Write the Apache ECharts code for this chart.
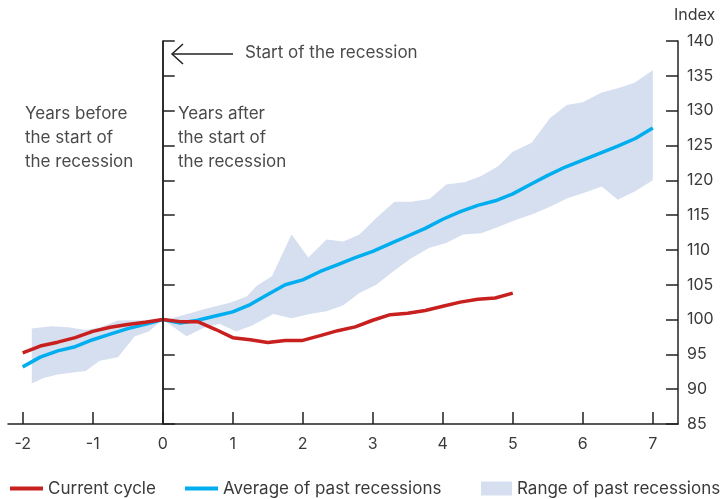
<!DOCTYPE html>
<html>
<head>
<meta charset="utf-8">
<title>Current cycle vs past recessions</title>
<script src="https://cdn.jsdelivr.net/npm/echarts@6/dist/echarts.min.js"></script>
<style>
  html, body { margin: 0; padding: 0; background: #fff; }
  #main { width: 728px; height: 499px; }
</style>
</head>
<body>
<div id="main"></div>
<script>
// years relative to the start of the recession (quarterly)
var quarters = [-2, -1.75, -1.5, -1.25, -1, -0.75, -0.5, -0.25, 0, 0.25, 0.5, 0.75,
  1, 1.25, 1.5, 1.75, 2, 2.25, 2.5, 2.75, 3, 3.25, 3.5, 3.75, 4, 4.25, 4.5, 4.75,
  5, 5.25, 5.5, 5.75, 6, 6.25, 6.5, 6.75, 7];

var currentCycle = [95.2, 96.2, 96.75, 97.4, 98.3, 98.9, 99.3, 99.6, 100, 99.7, 99.7, 98.6,
  97.4, 97.1, 96.7, 97.0, 97.0, 97.7, 98.4, 98.95, 99.9, 100.7, 100.9, 101.3, 101.9, 102.5, 102.9, 103.1,
  103.8];

var avgPast = [93.2, 94.6, 95.5, 96.1, 97.1, 97.9, 98.7, 99.3, 100, 99.5, 99.9, 100.5,
  101.1, 102.15, 103.6, 105.0, 105.7, 106.9, 107.9, 108.9, 109.8, 110.9, 112.0, 113.1, 114.4, 115.5, 116.4, 117.05,
  118.05, 119.4, 120.7, 121.9, 122.9, 123.9, 124.9, 126.0, 127.5];

// range of past recessions: upper and lower edges
var rangeUpperX = [-1.87, -1.6, -1.35, -1.1, -0.9, -0.64, -0.3, 0, 0.1, 0.39, 0.6, 0.96, 1.2, 1.34, 1.56,
  1.84, 2.08, 2.34, 2.58, 2.81, 3.05, 3.31, 3.55, 3.81, 4.05, 4.31, 4.55, 4.79, 5.0, 5.27, 5.53, 5.77,
  6.0, 6.27, 6.5, 6.74, 7.0];
var rangeUpper = [98.7, 99.05, 98.9, 98.5, 98.85, 99.85, 99.9, 100, 100.1, 100.9, 101.5, 102.4, 103.3, 104.8, 106.2,
  112.2, 108.9, 111.5, 111.2, 112.2, 114.6, 116.9, 116.9, 117.3, 119.4, 119.7, 120.6, 122.0, 124.1, 125.4, 128.9, 130.8,
  131.2, 132.6, 133.2, 134.0, 135.8];

var rangeLowerX = [-1.87, -1.7, -1.5, -1.2, -1.1, -0.9, -0.64, -0.4, -0.2, 0, 0.34, 0.58, 0.81, 1.05, 1.27,
  1.58, 1.84, 2.1, 2.34, 2.58, 2.81, 3.05, 3.29, 3.55, 3.81, 4.05, 4.29, 4.55, 4.79, 5.04, 5.3, 5.53,
  5.77, 6.0, 6.27, 6.5, 6.74, 7.0];
var rangeLower = [90.8, 91.6, 92.1, 92.5, 92.6, 94.1, 94.6, 97.6, 98.3, 100, 97.6, 98.8, 99.4, 98.3, 99.1,
  100.8, 100.2, 100.8, 101.2, 102.05, 103.8, 105.0, 106.9, 108.8, 110.3, 111.0, 112.2, 112.4, 113.3, 114.3, 115.2, 116.2,
  117.4, 118.15, 119.1, 117.2, 118.4, 120.0];

var xTicks = [-2, -1, 0, 1, 2, 3, 4, 5, 6, 7];

var FONT = 'Inter';
var TXT = '#3a3a3a';
var RED = '#c8201f';
var BLUE = '#00aeef';
var BAND = '#d5dff0';

function pairs(xs, ys) {
  var out = [];
  for (var i = 0; i < ys.length; i++) out.push([xs[i], ys[i]]);
  return out;
}

var chart = echarts.init(document.getElementById('main'), null, { renderer: 'canvas' });

var axisLine = { show: true, lineStyle: { color: '#222', width: 1.5 } };
var axisTick = { show: true, inside: true, length: 12, lineStyle: { color: '#222', width: 1.5 } };

var option = {
  animation: false,
  backgroundColor: '#fff',
  textStyle: { fontFamily: FONT },
  title: {
    text: 'Index',
    left: 669,
    top: 2,
    textStyle: { fontFamily: FONT, fontSize: 16, fontWeight: 'normal', color: TXT }
  },
  grid: { left: 8, right: 50, top: 41, bottom: 75 },
  legend: [
    {
      left: 5, top: 475, itemWidth: 33, itemHeight: 14, symbolKeepAspect: true,
      textStyle: { fontFamily: FONT, fontSize: 17, color: TXT },
      data: [{ name: 'Current cycle', icon: 'path://M0,0H33V4H0Z' }]
    },
    {
      left: 180, top: 475, itemWidth: 33, itemHeight: 14, symbolKeepAspect: true,
      textStyle: { fontFamily: FONT, fontSize: 17, color: TXT },
      data: [{ name: 'Average of past recessions', icon: 'path://M0,0H33V4H0Z' }]
    },
    {
      left: 476, top: 475, itemWidth: 31, itemHeight: 14,
      textStyle: { fontFamily: FONT, fontSize: 17, color: TXT },
      data: [{ name: 'Range of past recessions', icon: 'rect' }]
    }
  ],
  xAxis: {
    type: 'value',
    min: -2.21,
    max: 7.36,
    axisLine: axisLine,
    axisTick: { show: true, inside: true, length: 12, customValues: xTicks, lineStyle: { color: '#222', width: 1.5 } },
    axisLabel: { customValues: xTicks, margin: 12, fontFamily: FONT, fontSize: 16, color: TXT },
    splitLine: { show: false }
  },
  yAxis: [
    {
      type: 'value', position: 'left', min: 85, max: 140, interval: 5,
      axisLine: axisLine, axisTick: axisTick,
      axisLabel: { show: false }, splitLine: { show: false }
    },
    {
      type: 'value', position: 'right', min: 85, max: 140, interval: 5,
      axisLine: axisLine, axisTick: axisTick,
      axisLabel: { margin: 9, fontFamily: FONT, fontSize: 16, color: TXT },
      splitLine: { show: false }
    }
  ],
  graphic: [
    // arrow pointing at the start of the recession
    { type: 'line', shape: { x1: 172, y1: 54, x2: 233, y2: 54 }, style: { stroke: '#222', lineWidth: 1.5 } },
    { type: 'polyline', shape: { points: [[183, 44], [172, 54], [183, 64]] }, style: { stroke: '#222', lineWidth: 1.5, fill: null } },
    { type: 'text', left: 245, top: 44, style: { text: 'Start of the recession', font: '17px ' + FONT, fill: '#4a4a4a' } },
    { type: 'text', left: 25, top: 102, style: { text: 'Years before\nthe start of\nthe recession', font: '17px ' + FONT, lineHeight: 24, fill: '#4a4a4a' } },
    { type: 'text', left: 178, top: 102, style: { text: 'Years after\nthe start of\nthe recession', font: '17px ' + FONT, lineHeight: 24, fill: '#4a4a4a' } }
  ],
  series: [
    {
      name: 'Range of past recessions',
      type: 'custom',
      yAxisIndex: 0,
      itemStyle: { color: BAND },
      data: [[0, 100]],
      z: 1,
      renderItem: function (params, api) {
        var pts = [];
        for (var i = 0; i < rangeUpper.length; i++) pts.push(api.coord([rangeUpperX[i], rangeUpper[i]]));
        for (var j = rangeLower.length - 1; j >= 0; j--) pts.push(api.coord([rangeLowerX[j], rangeLower[j]]));
        return { type: 'polygon', shape: { points: pts }, style: { fill: BAND } };
      }
    },
    {
      name: 'Average of past recessions',
      type: 'line',
      yAxisIndex: 0,
      data: pairs(quarters, avgPast),
      showSymbol: false,
      symbol: 'none',
      itemStyle: { color: BLUE },
      lineStyle: { color: BLUE, width: 3.5 },
      z: 3
    },
    {
      name: 'Current cycle',
      type: 'line',
      yAxisIndex: 0,
      data: pairs(quarters, currentCycle),
      showSymbol: false,
      symbol: 'none',
      itemStyle: { color: RED },
      lineStyle: { color: RED, width: 3.5 },
      z: 4,
      markLine: {
        silent: true,
        symbol: 'none',
        label: { show: false },
        lineStyle: { color: '#222', width: 1.5, type: 'solid' },
        data: [{ xAxis: 0 }]
      }
    }
  ]
};

chart.setOption(option);
</script>
</body>
</html>
